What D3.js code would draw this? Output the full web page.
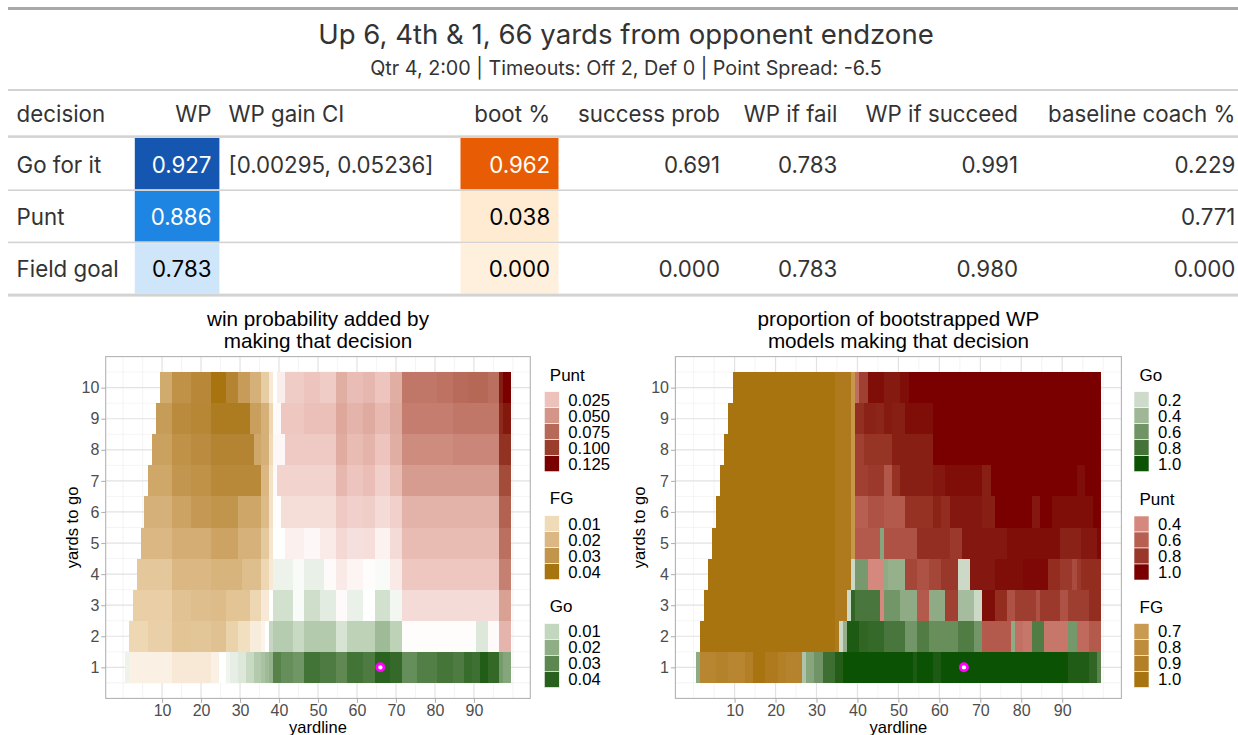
<!DOCTYPE html>
<html>
<head>
<meta charset="utf-8">
<script src="https://cdn.jsdelivr.net/npm/d3@7"></script>
<style>
  html, body { margin: 0; padding: 0; background: #ffffff; }
  svg { display: block; }
</style>
</head>
<body>
<svg id="chart" width="1238" height="735"></svg>
<script>
// ---------------- table data ----------------
const heading = "Up 6, 4th & 1, 66 yards from opponent endzone";
const subheading = "Qtr 4, 2:00 | Timeouts: Off 2, Def 0 | Point Spread: -6.5";
const columnLabels = ["decision", "WP", "WP gain CI", "boot %", "success prob", "WP if fail", "WP if succeed", "baseline coach %"];
const decisions = ["Go for it", "Punt", "Field goal"];
const wp = [0.927, 0.886, 0.783];
const wpGainLow = [0.00295, null, null];
const wpGainHigh = [0.05236, null, null];
const bootPct = [0.962, 0.038, 0.000];
const successProb = [0.691, null, 0.000];
const wpIfFail = [0.783, null, 0.783];
const wpIfSucceed = [0.991, null, 0.980];
const baselineCoachPct = [0.229, 0.771, 0.000];

// ---------------- heatmap data ----------------
// Each row is one yards-to-go value (1..10); segments are [fromYard, toYard, decision, value].
const currentYardline = 66;
const currentYdstogo = 1;
const yardlineTicks = [10, 20, 30, 40, 50, 60, 70, 80, 90];
const ydstogoTicks = [1, 2, 3, 4, 5, 6, 7, 8, 9, 10];

// win probability added by the best decision
const gainRows = [
  [[1,1,"Go",.003],[2,12,"FG",.004],[13,22,"FG",.006],[23,24,"FG",.004],[25,26,"Go",0],[27,27,"Go",.0025],[28,29,"Go",.004],[30,31,"Go",.0056],[32,33,"Go",.009],[34,35,"Go",.013],[36,36,"Go",.015],[37,37,"Go",.017],[38,38,"Go",.019],[39,40,"Go",.031],[41,43,"Go",.028],[44,46,"Go",.026],[47,50,"Go",.035],[51,54,"Go",.033],[55,57,"Go",.0295],[58,61,"Go",.035],[62,64,"Go",.033],[65,68,"Go",.0396],[69,71,"Go",.0377],[72,75,"Go",.028],[76,80,"Go",.032],[81,84,"Go",.0346],[85,87,"Go",.033],[88,89,"Go",.037],[90,91,"Go",.036],[92,93,"Go",.041],[94,96,"Go",.038],[97,97,"Go",.025],[98,99,"Go",.022]],
  [[2,6,"FG",.011],[7,12,"FG",.013],[13,17,"FG",.0165],[18,22,"FG",.016],[23,26,"FG",.0174],[27,29,"FG",.0126],[30,32,"FG",.009],[33,35,"FG",.005],[36,36,"FG",.003],[37,37,"Go",0],[38,38,"Go",.0097],[39,43,"Go",.0125],[44,46,"Go",.009],[47,54,"Go",.013],[55,57,"Go",.0066],[58,64,"Go",.011],[65,68,"Go",.017],[69,71,"Go",.011],[72,90,"Punt",.001],[91,93,"Go",.0056],[94,96,"Punt",.002],[97,99,"Punt",.032]],
  [[3,12,"FG",.0135],[13,17,"FG",.017],[18,22,"FG",.018],[23,26,"FG",.0187],[27,32,"FG",.0165],[33,35,"FG",.0113],[36,37,"FG",.006],[38,38,"Go",0],[39,43,"Go",.0075],[44,46,"Go",.001],[47,50,"Go",.008],[51,54,"Go",.0047],[55,57,"Punt",.002],[58,61,"Go",.0034],[62,64,"Go",0],[65,68,"Go",.0075],[69,71,"Go",.002],[72,96,"Punt",.0146],[97,99,"Punt",.044]],
  [[4,12,"FG",.0157],[13,22,"FG",.02],[23,30,"FG",.021],[31,35,"FG",.018],[36,37,"FG",.011],[38,38,"FG",.006],[39,43,"Go",.003],[44,46,"Go",.001],[47,51,"Go",.0037],[52,54,"Punt",.002],[55,57,"Punt",.0085],[58,61,"Punt",.004],[62,64,"Punt",.001],[65,68,"Go",.001],[69,71,"Punt",.0085],[72,96,"Punt",.023],[97,99,"Punt",.062]],
  [[5,12,"FG",.02],[13,22,"FG",.023],[23,29,"FG",.026],[30,35,"FG",.0217],[36,37,"FG",.015],[38,38,"FG",.007],[39,41,"Go",0],[42,46,"Punt",.006],[47,50,"Punt",.003],[51,54,"Punt",.008],[55,57,"Punt",.016],[58,61,"Punt",.0125],[62,64,"Punt",.013],[65,68,"Punt",.005],[69,71,"Punt",.0146],[72,96,"Punt",.029],[97,99,"Punt",.072]],
  [[6,12,"FG",.022],[13,17,"FG",.026],[18,22,"FG",.0287],[23,29,"FG",.030],[30,35,"FG",.025],[36,37,"FG",.019],[38,38,"FG",.008],[39,40,"Punt",.001],[41,54,"Punt",.014],[55,57,"Punt",.022],[58,61,"Punt",.019],[62,64,"Punt",.020],[65,68,"Punt",.0146],[69,71,"Punt",.019],[72,96,"Punt",.034],[97,99,"Punt",.079]],
  [[7,12,"FG",.0248],[13,17,"FG",.0296],[18,22,"FG",.031],[23,35,"FG",.0335],[36,37,"FG",.02],[38,38,"FG",.008],[39,39,"Punt",.002],[40,54,"Punt",.018],[55,57,"Punt",.031],[58,61,"Punt",.024],[62,64,"Punt",.027],[65,68,"Punt",.019],[69,71,"Punt",.029],[72,96,"Punt",.046],[97,99,"Punt",.092]],
  [[8,12,"FG",.0265],[13,17,"FG",.031],[18,22,"FG",.0326],[23,33,"FG",.035],[34,35,"FG",.0248],[36,37,"FG",.022],[38,38,"FG",.01],[39,41,"Punt",.003],[42,54,"Punt",.022],[55,57,"Punt",.037],[58,61,"Punt",.029],[62,64,"Punt",.033],[65,68,"Punt",.024],[69,71,"Punt",.036],[72,84,"Punt",.055],[85,96,"Punt",.058],[97,99,"Punt",.106]],
  [[9,12,"FG",.028],[13,17,"FG",.033],[18,22,"FG",.0343],[23,32,"FG",.038],[33,35,"FG",.027],[36,37,"FG",.022],[38,38,"FG",.011],[39,40,"Punt",.002],[41,46,"Punt",.023],[47,54,"Punt",.026],[55,57,"Punt",.040],[58,61,"Punt",.033],[62,64,"Punt",.038],[65,68,"Punt",.030],[69,71,"Punt",.039],[72,84,"Punt",.0636],[85,96,"Punt",.067],[97,97,"Punt",.11],[98,99,"Punt",.118]],
  [[10,12,"FG",.024],[13,17,"FG",.031],[18,22,"FG",.034],[23,26,"FG",.040],[27,29,"FG",.035],[30,32,"FG",.028],[33,35,"FG",.022],[36,37,"FG",.014],[38,38,"FG",.006],[39,39,"Punt",0],[40,41,"Punt",.007],[42,46,"Punt",.021],[47,50,"Punt",.024],[51,54,"Punt",.021],[55,57,"Punt",.036],[58,61,"Punt",.028],[62,64,"Punt",.031],[65,68,"Punt",.024],[69,71,"Punt",.036],[72,80,"Punt",.067],[81,84,"Punt",.07],[85,88,"Punt",.074],[89,93,"Punt",.076],[94,96,"Punt",.072],[97,97,"Punt",.116],[98,99,"Punt",.125]]
];

// share of bootstrapped models choosing the decision
const bootRows = [
  [[1,1,"Go",.47],[2,5,"FG",.86],[6,8,"FG",.89],[9,12,"FG",.86],[13,14,"FG",.91],[15,17,"FG",1],[18,20,"FG",.95],[21,22,"FG",.9],[23,26,"FG",.88],[27,27,"Go",.33],[28,29,"Go",.5],[30,31,"Go",.6],[32,34,"Go",.82],[35,36,"Go",.93],[37,53,"Go",1],[54,54,"Go",.95],[55,58,"Go",1],[59,60,"Go",.95],[61,91,"Go",1],[92,96,"Go",.94],[97,98,"Go",.88],[99,99,"Go",.7]],
  [[2,34,"FG",1],[35,35,"FG",.95],[36,36,"Go",.21],[37,37,"Go",.44],[38,40,"Go",.95],[41,42,"Go",.88],[43,46,"Go",.86],[47,51,"Go",.78],[52,54,"Go",.59],[55,57,"Go",.74],[58,64,"Go",.64],[65,68,"Go",.74],[69,70,"Go",.59],[71,77,"Punt",.63],[78,78,"Go",.47],[79,80,"Punt",.52],[81,82,"Punt",.49],[83,85,"Go",.74],[86,91,"Punt",.49],[92,93,"Go",.58],[94,96,"Punt",.55],[97,99,"Punt",.63]],
  [[3,34,"FG",1],[35,37,"FG",.95],[38,38,"Go",.21],[39,39,"Go",.88],[40,45,"Go",.78],[46,46,"Punt",.4],[47,50,"Go",.59],[51,54,"Go",.47],[55,57,"Punt",.63],[58,61,"Go",.47],[62,64,"Punt",.76],[65,68,"Go",.37],[69,70,"Go",.21],[71,73,"Punt",.97],[74,76,"Punt",.85],[77,78,"Punt",.67],[79,83,"Punt",.77],[84,84,"Punt",.67],[85,89,"Punt",.79],[90,91,"Punt",.67],[92,96,"Punt",.77],[97,99,"Punt",.85]],
  [[4,34,"FG",1],[35,38,"FG",.95],[39,39,"Go",.21],[40,42,"Go",.57],[43,46,"Punt",.4],[47,47,"Go",.47],[48,51,"Go",.44],[52,54,"Punt",.73],[55,57,"Punt",.67],[58,60,"Punt",.73],[61,64,"Punt",.8],[65,67,"Go",.21],[68,73,"Punt",.94],[74,80,"Punt",.97],[81,86,"Punt",.98],[87,89,"Punt",.85],[90,92,"Punt",.79],[93,93,"Punt",.7],[94,94,"Punt",.79],[95,99,"Punt",.85]],
  [[5,34,"FG",1],[35,38,"FG",.95],[39,39,"FG",.72],[40,45,"Punt",.63],[46,46,"Go",.5],[47,54,"Punt",.67],[55,62,"Punt",.84],[63,65,"Punt",.79],[66,76,"Punt",.94],[77,89,"Punt",.97],[90,94,"Punt",.9],[95,98,"Punt",.94],[99,99,"Punt",.98]],
  [[6,34,"FG",1],[35,38,"FG",.95],[39,39,"FG",.72],[40,42,"Punt",.6],[43,46,"Punt",.67],[47,51,"Punt",.63],[52,58,"Punt",.83],[59,60,"Punt",.89],[61,62,"Punt",.85],[63,70,"Punt",.94],[71,73,"Punt",.91],[74,82,"Punt",1],[83,84,"Punt",.94],[85,87,"Punt",1],[88,97,"Punt",.97],[98,99,"Punt",1]],
  [[7,34,"FG",1],[35,38,"FG",.95],[39,39,"FG",.72],[40,42,"Punt",.76],[43,46,"Punt",.79],[47,48,"Punt",.64],[49,50,"Punt",.83],[51,58,"Punt",.91],[59,61,"Punt",.94],[62,70,"Punt",.97],[71,72,"Punt",.91],[73,93,"Punt",1],[94,95,"Punt",.97],[96,99,"Punt",1]],
  [[8,34,"FG",1],[35,38,"FG",.95],[39,39,"FG",.72],[40,41,"Punt",.76],[42,48,"Punt",.82],[49,58,"Punt",.91],[59,99,"Punt",1]],
  [[9,34,"FG",1],[35,38,"FG",.95],[39,39,"FG",.72],[40,41,"Punt",.84],[42,44,"Punt",.9],[45,46,"Punt",.88],[47,48,"Punt",.93],[49,51,"Punt",.91],[52,58,"Punt",.97],[59,99,"Punt",1]],
  [[10,34,"FG",1],[35,38,"FG",.95],[39,39,"FG",.72],[40,40,"Punt",.54],[41,42,"Punt",.76],[43,46,"Punt",.97],[47,50,"Punt",.93],[51,52,"Punt",.97],[53,99,"Punt",1]]
];

// legend breaks
const gainPuntBreaks = [0.025, 0.050, 0.075, 0.100, 0.125];
const gainFgBreaks = [0.01, 0.02, 0.03, 0.04];
const gainGoBreaks = [0.01, 0.02, 0.03, 0.04];
const bootGoBreaks = [0.2, 0.4, 0.6, 0.8, 1.0];
const bootPuntBreaks = [0.4, 0.6, 0.8, 1.0];
const bootFgBreaks = [0.7, 0.8, 0.9, 1.0];

// ---------------- colour scales ----------------
const lab = (dom, rng) => d3.scaleLinear().domain(dom).range(rng).interpolate(d3.interpolateLab).clamp(true);
const gainColor = {
  Punt: lab([0, 0.025, 0.125], ["#ffffff", "#ecc2bb", "#7a0000"]),
  FG:   lab([0, 0.01, 0.04],   ["#ffffff", "#f0dbb9", "#a87410"]),
  Go:   lab([0, 0.01, 0.044],  ["#ffffff", "#c3d6be", "#0b5204"])
};
const bootColor = {
  Go:   lab([0, 1],     ["#ffffff", "#0b5204"]),
  Punt: lab([0.4, 1],   ["#d4887e", "#7a0000"]),
  FG:   lab([0.7, 1],   ["#c99a4f", "#a87410"])
};
const wpFill = d3.scaleLinear().domain([0.783, 0.886, 0.927]).range(["#cfe6fa", "#1f85e2", "#1557b0"]);
const bootFill = d3.scaleLinear().domain([0, 0.038, 0.962]).range(["#fff0de", "#feebd2", "#e85d04"]);

// ---------------- drawing ----------------
const svg = d3.select("#chart");
svg.append("rect").attr("width", 1238).attr("height", 735).attr("fill", "#ffffff");

const tableFont = "Inter, 'Noto Sans', sans-serif";
const plotFont = "'Liberation Sans', Arial, sans-serif";
const ink = "#333333";

function fitWidth(sel, target) {
  const w = sel.node().getComputedTextLength();
  const fs = parseFloat(sel.attr("font-size"));
  const nfs = fs * target / w;
  sel.attr("font-size", nfs);
  return nfs;
}

// ---- table ----
const tbl = svg.append("g");
const tblX0 = 8, tblX1 = 1238;
tbl.append("rect").attr("x", tblX0).attr("y", 7).attr("width", tblX1 - tblX0).attr("height", 3).attr("fill", "#a8a8a8");

const titleSel = tbl.append("text").attr("x", 626).attr("y", 43.5).attr("text-anchor", "middle")
  .attr("font-family", tableFont).attr("font-size", 26).attr("fill", ink).text(heading);
fitWidth(titleSel, 616);
const subSel = tbl.append("text").attr("x", 626).attr("y", 75).attr("text-anchor", "middle")
  .attr("font-family", tableFont).attr("font-size", 17).attr("fill", ink).text(subheading);
fitWidth(subSel, 512);

tbl.append("rect").attr("x", tblX0).attr("y", 89).attr("width", tblX1 - tblX0).attr("height", 2).attr("fill", "#d3d3d3");

// column geometry: text anchor position and optional fill band
const cols = [
  { x: 16.6, anchor: "start" },
  { x: 211.5, anchor: "end", band: [134.8, 219.4] },
  { x: 228.5, anchor: "start" },
  { x: 550.2, anchor: "end", band: [460.5, 558.5] },
  { x: 720, anchor: "end" },
  { x: 837.4, anchor: "end" },
  { x: 1018, anchor: "end" },
  { x: 1235.4, anchor: "end" }
];

// table font size taken from the widest header
const probe = tbl.append("text").attr("font-family", tableFont).attr("font-size", 21).text(columnLabels[7]);
const tableFs = fitWidth(probe, 187.5);
probe.remove();

columnLabels.forEach((lbl, i) => {
  tbl.append("text").attr("x", cols[i].x).attr("y", 121.7).attr("text-anchor", cols[i].anchor)
    .attr("font-family", tableFont).attr("font-size", tableFs).attr("fill", ink).text(lbl);
});
tbl.append("rect").attr("x", tblX0).attr("y", 135.3).attr("width", tblX1 - tblX0).attr("height", 2.6).attr("fill", "#d3d3d3");

const rowTop = [138, 191, 243.2];
const rowBot = [189.4, 241.6, 293.6];
const rowBase = [172.7, 225, 276.9];
const f3 = d3.format(".3f");
const f5 = d3.format(".5f");
const textOn = c => (d3.lab(c).l < 62 ? "#ffffff" : "#000000");

decisions.forEach((dec, r) => {
  const cells = [
    dec,
    f3(wp[r]),
    wpGainLow[r] == null ? "" : `[${f5(wpGainLow[r])}, ${f5(wpGainHigh[r])}]`,
    f3(bootPct[r]),
    successProb[r] == null ? "" : f3(successProb[r]),
    wpIfFail[r] == null ? "" : f3(wpIfFail[r]),
    wpIfSucceed[r] == null ? "" : f3(wpIfSucceed[r]),
    f3(baselineCoachPct[r])
  ];
  const fills = [null, wpFill(wp[r]), null, bootFill(bootPct[r]), null, null, null, null];
  cells.forEach((txt, i) => {
    let color = ink;
    if (fills[i]) {
      tbl.append("rect").attr("x", cols[i].band[0]).attr("y", rowTop[r])
        .attr("width", cols[i].band[1] - cols[i].band[0]).attr("height", rowBot[r] - rowTop[r])
        .attr("fill", fills[i]);
      color = textOn(fills[i]);
    }
    if (txt) {
      tbl.append("text").attr("x", cols[i].x).attr("y", rowBase[r]).attr("text-anchor", cols[i].anchor)
        .attr("font-family", tableFont).attr("font-size", tableFs).attr("fill", color).text(txt);
    }
  });
  if (r < decisions.length - 1) {
    tbl.append("rect").attr("x", tblX0).attr("y", rowBot[r]).attr("width", tblX1 - tblX0).attr("height", 1.6).attr("fill", "#d3d3d3");
  }
});
tbl.append("rect").attr("x", tblX0).attr("y", 293.6).attr("width", tblX1 - tblX0).attr("height", 3).attr("fill", "#d3d3d3");

// ---- heatmaps ----
const xDomain = [0.5 - 0.05 * 99, 99.5 + 0.05 * 99];
const yDomain = [0.5 - 0.05 * 10, 10.5 + 0.05 * 10];

function heatPanel(opts) {
  const { x0, x1, y0, y1, rows, colors, title, ytitleX, tickLabelGap } = opts;
  const g = svg.append("g");
  const xs = d3.scaleLinear().domain(xDomain).range([x0, x1]);
  const ys = d3.scaleLinear().domain(yDomain).range([y1, y0]);

  g.append("rect").attr("x", x0).attr("y", y0).attr("width", x1 - x0).attr("height", y1 - y0).attr("fill", "#ffffff");

  // grid
  const xMinor = d3.range(0, 101, 5).filter(v => !yardlineTicks.includes(v));
  const yMinor = d3.range(0.5, 11, 1);
  g.selectAll(".vminor").data(xMinor).join("line")
    .attr("x1", d => xs(d)).attr("x2", d => xs(d)).attr("y1", y0).attr("y2", y1)
    .attr("stroke", "#efefef").attr("stroke-width", 0.7);
  g.selectAll(".hminor").data(yMinor).join("line")
    .attr("y1", d => ys(d)).attr("y2", d => ys(d)).attr("x1", x0).attr("x2", x1)
    .attr("stroke", "#efefef").attr("stroke-width", 0.7);
  g.selectAll(".vmajor").data(yardlineTicks).join("line")
    .attr("x1", d => xs(d)).attr("x2", d => xs(d)).attr("y1", y0).attr("y2", y1)
    .attr("stroke", "#e2e2e2").attr("stroke-width", 1.2);
  g.selectAll(".hmajor").data(ydstogoTicks).join("line")
    .attr("y1", d => ys(d)).attr("y2", d => ys(d)).attr("x1", x0).attr("x2", x1)
    .attr("stroke", "#e2e2e2").attr("stroke-width", 1.2);

  // tiles, one per yardline / yards-to-go cell
  const cells = [];
  rows.forEach((segs, i) => {
    segs.forEach(([a, b, dec, v]) => {
      for (let yd = a; yd <= b; yd++) cells.push({ yardline: yd, ydstogo: i + 1, dec, v });
    });
  });
  g.append("g").attr("shape-rendering", "crispEdges")
    .selectAll("rect").data(cells).join("rect")
    .attr("x", d => xs(d.yardline - 0.5))
    .attr("width", d => xs(d.yardline + 0.5) - xs(d.yardline - 0.5))
    .attr("y", d => ys(d.ydstogo + 0.5))
    .attr("height", d => ys(d.ydstogo - 0.5) - ys(d.ydstogo + 0.5))
    .attr("fill", d => colors[d.dec](d.v));

  // current situation
  g.append("circle").attr("cx", xs(currentYardline)).attr("cy", ys(currentYdstogo)).attr("r", 3.6)
    .attr("fill", "#ffffff").attr("stroke", "#ff00ff").attr("stroke-width", 2.8);

  // border
  g.append("rect").attr("x", x0).attr("y", y0).attr("width", x1 - x0).attr("height", y1 - y0)
    .attr("fill", "none").attr("stroke", "#b3b3b3").attr("stroke-width", 1.1);

  // axes
  const tickFs = 16;
  const xAxis = g.append("g").attr("transform", `translate(0,${y1})`)
    .call(d3.axisBottom(xs).tickValues(yardlineTicks).tickSize(4.4).tickPadding(1.6));
  const yAxis = g.append("g").attr("transform", `translate(${x0},0)`)
    .call(d3.axisLeft(ys).tickValues(ydstogoTicks).tickSize(4.4).tickPadding(tickLabelGap));
  [xAxis, yAxis].forEach(ax => {
    ax.select(".domain").remove();
    ax.selectAll(".tick line").attr("stroke", "#b3b3b3").attr("stroke-width", 1.1);
    ax.selectAll(".tick text").attr("fill", "#4d4d4d").attr("font-family", plotFont).attr("font-size", tickFs);
  });

  // axis titles
  g.append("text").attr("x", (x0 + x1) / 2).attr("y", 732.5).attr("text-anchor", "middle")
    .attr("font-family", plotFont).attr("font-size", 16.5).attr("fill", "#000").text("yardline");
  g.append("text").attr("transform", `translate(${ytitleX},${(y0 + y1) / 2}) rotate(-90)`)
    .attr("text-anchor", "middle").attr("font-family", plotFont).attr("font-size", 16.5).attr("fill", "#000")
    .text("yards to go");

  // plot title (two lines)
  title.forEach((line, i) => {
    g.append("text").attr("x", (x0 + x1) / 2).attr("y", 326 + i * 21.6).attr("text-anchor", "middle")
      .attr("font-family", plotFont).attr("font-size", 20.7).attr("fill", "#000").text(line);
  });
  return g;
}

function legendBlock(opts) {
  const { keyX, titleY, keyTop, title, breaks, scale, fmt } = opts;
  const g = svg.append("g");
  g.append("text").attr("x", keyX + 5.5).attr("y", titleY).attr("font-family", plotFont).attr("font-size", 17)
    .attr("fill", "#000").text(title);
  const kh = 16, kw = 15;
  g.selectAll("rect").data(breaks).join("rect")
    .attr("x", keyX).attr("y", (d, i) => keyTop + i * kh).attr("width", kw).attr("height", kh)
    .attr("fill", d => scale(d)).attr("stroke", "#ffffff").attr("stroke-width", 0.6);
  g.selectAll("text.lbl").data(breaks).join("text").attr("class", "lbl")
    .attr("x", keyX + kw + 9).attr("y", (d, i) => keyTop + i * kh + kh / 2 + 5.9)
    .attr("font-family", plotFont).attr("font-size", 16.7).attr("fill", "#000").text(d => fmt(d));
}

heatPanel({
  x0: 105.7, x1: 530.3, y0: 356.6, y1: 698.4,
  rows: gainRows, colors: gainColor,
  title: ["win probability added by", "making that decision"],
  ytitleX: 77.5, tickLabelGap: 2
});
heatPanel({
  x0: 675.4, x1: 1121.4, y0: 356.6, y1: 698.4,
  rows: bootRows, colors: bootColor,
  title: ["proportion of bootstrapped WP", "models making that decision"],
  ytitleX: 645, tickLabelGap: 2
});

legendBlock({ keyX: 544.3, titleY: 380.7, keyTop: 391.7, title: "Punt", breaks: gainPuntBreaks, scale: gainColor.Punt, fmt: d3.format(".3f") });
legendBlock({ keyX: 544.3, titleY: 504.2, keyTop: 515.7, title: "FG", breaks: gainFgBreaks, scale: gainColor.FG, fmt: d3.format(".2f") });
legendBlock({ keyX: 544.3, titleY: 612.3, keyTop: 623.5, title: "Go", breaks: gainGoBreaks, scale: gainColor.Go, fmt: d3.format(".2f") });

legendBlock({ keyX: 1134, titleY: 380.7, keyTop: 391.7, title: "Go", breaks: bootGoBreaks, scale: bootColor.Go, fmt: d3.format(".1f") });
legendBlock({ keyX: 1134, titleY: 504.8, keyTop: 516, title: "Punt", breaks: bootPuntBreaks, scale: bootColor.Punt, fmt: d3.format(".1f") });
legendBlock({ keyX: 1134, titleY: 613.3, keyTop: 623.5, title: "FG", breaks: bootFgBreaks, scale: bootColor.FG, fmt: d3.format(".1f") });
</script>
</body>
</html>
